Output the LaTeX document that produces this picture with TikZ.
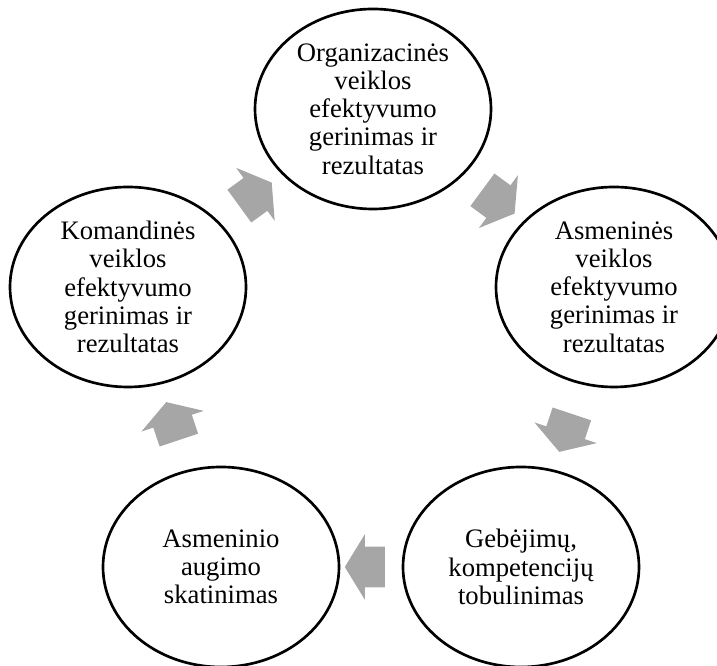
\documentclass[tikz,border=0pt]{standalone}
\usepackage{fontspec}
\setmainfont{Liberation Serif}
\usepackage{tikz}
\usetikzlibrary{shapes.geometric, shapes.arrows}
\definecolor{arrowgray}{RGB}{166,166,166}

\begin{document}
\begin{tikzpicture}[x=0.75pt, y=0.75pt,
    cyclenode/.style={ellipse, draw, line width=2pt, fill=white,
                      minimum width=177pt, minimum height=150pt, inner sep=0pt,
                      align=center, font=\fontsize{20}{21.2}\selectfont},
    cyclearrow/.style={single arrow, fill=arrowgray, draw=none,
                       inner xsep=0pt, inner ysep=15pt, minimum height=30pt,
                       single arrow head extend=9.4pt, single arrow tip angle=117,
                       sloped, allow upside down}]

\useasboundingbox (0,0) rectangle (717,666);

%% ── Cycle nodes ──────────────────────────────────────────────────────────────
\node[cyclenode] (org) at (373,557)
    {Organizacinės\\veiklos\\efektyvumo\\gerinimas ir\\rezultatas};

\node[cyclenode] (asm) at (614,379)
    {Asmeninės\\veiklos\\efektyvumo\\gerinimas ir\\rezultatas};

\node[cyclenode] (geb) at (521,99)
    {Gebėjimų,\\kompetencijų\\tobulinimas};

\node[cyclenode] (aug) at (221,99)
    {Asmeninio\\augimo\\skatinimas};

\node[cyclenode] (kom) at (128,379)
    {Komandinės\\veiklos\\efektyvumo\\gerinimas ir\\rezultatas};

%% ── Block arrows between nodes ───────────────────────────────────────────────
\path (org.center) -- node[cyclearrow]{} (asm.center);
\path (asm.center) -- node[cyclearrow]{} (geb.center);
\path (geb.center) -- node[cyclearrow]{} (aug.center);
\path (aug.center) -- node[cyclearrow]{} (kom.center);
\path (kom.center) -- node[cyclearrow]{} (org.center);

\end{tikzpicture}
\end{document}
